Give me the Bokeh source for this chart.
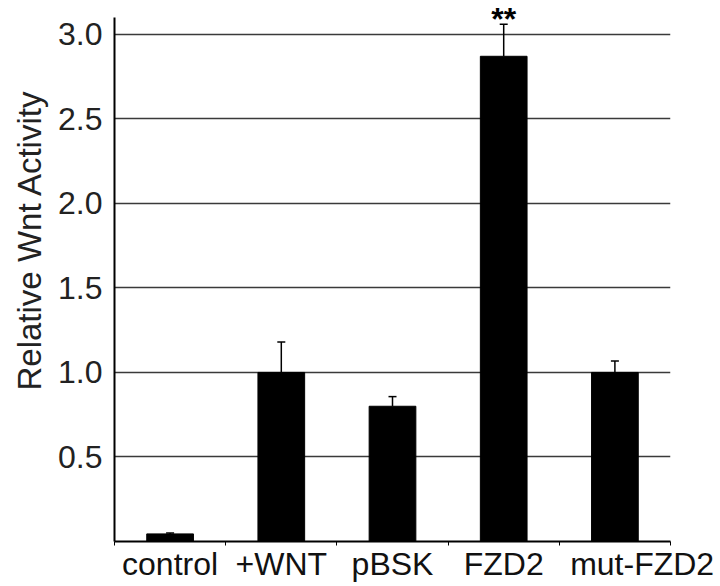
import math
from bokeh.plotting import figure
from bokeh.models import FixedTicker, Whisker, TeeHead, ColumnDataSource, Title, Range1d
from bokeh.core.properties import value
from bokeh.embed import file_html
from bokeh.resources import INLINE

categories = ["control", "+WNT", "pBSK", "FZD2", "mut-FZD2"]
activity = [0.045, 1.0, 0.80, 2.87, 1.0]
error = [0.006, 0.18, 0.057, 0.19, 0.067]
significance = ["", "", "", "**", ""]
y_ticks = [0.5, 1.0, 1.5, 2.0, 2.5, 3.0]
y_axis_max = 3.1

# label placement tweak (the last label is nudged right in the original to avoid overlap)
label_nudge = {"mut-FZD2": 0.245}

xs = [i + 0.5 for i in range(len(categories))]
label_xs = [x + label_nudge.get(c, 0.0) for x, c in zip(xs, categories)]
upper = [a + e for a, e in zip(activity, error)]
src = ColumnDataSource(dict(x=xs, top=activity, upper=upper, sig=significance))

FONT = "Liberation Sans"

p = figure(width=720, height=586, output_backend="svg", toolbar_location=None,
           x_range=Range1d(0, len(categories)), y_range=Range1d(0, 3.2),
           min_border_left=114, min_border_right=50, min_border_top=0, min_border_bottom=45)
p.outline_line_color = None
p.background_fill_color = "white"

p.vbar(x="x", top="top", width=0.42, bottom=0, source=src, fill_color="black", line_color="black")

w = Whisker(base="x", lower="top", upper="upper", source=src, dimension="height",
            line_color="black", line_width=1.5,
            lower_head=None, upper_head=TeeHead(size=8, line_color="black", line_width=1.5))
p.add_layout(w)

p.text(x="x", y="upper", text="sig", source=src, text_font=value(FONT), text_font_style="bold",
       text_font_size="32px", text_align="center", text_baseline="alphabetic", y_offset=-5,
       text_color="black")

# y axis
p.yaxis.bounds = (0, y_axis_max)
p.yaxis.ticker = FixedTicker(ticks=y_ticks)
p.yaxis.major_label_overrides = {t: f"{t:.1f}" for t in y_ticks}
p.yaxis.major_tick_out = 0
p.yaxis.major_tick_in = 0
p.yaxis.minor_tick_out = 0
p.yaxis.minor_tick_in = 0
p.yaxis.axis_line_width = 2
p.yaxis.axis_line_color = "black"
p.yaxis.major_label_text_font = FONT
p.yaxis.major_label_text_font_size = "32px"
p.yaxis.major_label_text_color = "#222222"
p.yaxis.major_label_standoff = 12

p.ygrid.ticker = FixedTicker(ticks=y_ticks)
p.ygrid.grid_line_color = "#3a3a3a"
p.ygrid.grid_line_width = 1.5
p.xgrid.grid_line_color = None

# x axis
p.xaxis.ticker = FixedTicker(ticks=label_xs, minor_ticks=list(range(len(categories) + 1)))
p.xaxis.major_label_overrides = {x: c for x, c in zip(label_xs, categories)}
p.xaxis.major_tick_out = 0
p.xaxis.major_tick_in = 0
p.xaxis.minor_tick_out = 4
p.xaxis.minor_tick_in = 0
p.xaxis.minor_tick_line_color = "black"
p.xaxis.axis_line_width = 2
p.xaxis.axis_line_color = "black"
p.xaxis.major_label_text_font = FONT
p.xaxis.major_label_text_font_size = "32px"
p.xaxis.major_label_text_line_height = 0.9
p.xaxis.major_label_text_color = "#111111"
p.xaxis.major_label_standoff = 0

ttl = Title(text="Relative Wnt Activity", align="left", offset=151,
            text_font=FONT, text_font_size="33px", text_font_style="normal",
            text_color="#222222", standoff=16)
p.add_layout(ttl, "left")

open("out.html", "w").write(file_html(p, INLINE))
